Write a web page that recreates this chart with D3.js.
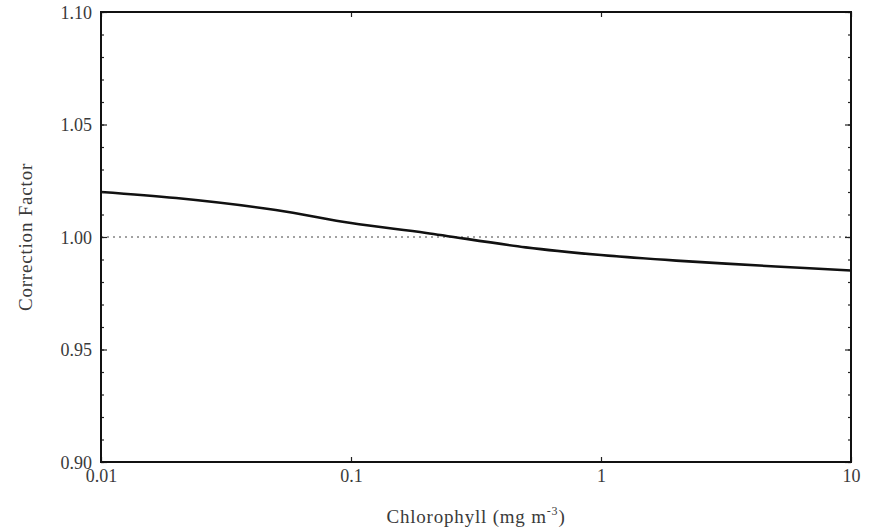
<!DOCTYPE html>
<html><head><meta charset="utf-8">
<script src="https://cdn.jsdelivr.net/npm/d3@7/dist/d3.min.js"></script>
<style>body{margin:0;background:#fff}</style>
</head><body>
<script>
const chlorophyll = [0.01, 0.02, 0.05, 0.1, 0.2, 0.5, 1, 2, 5, 10];
const correction = [1.0200, 1.0173, 1.0120, 1.0062, 1.0018, 0.9954, 0.9920, 0.9895, 0.9869, 0.9851];
const xTicks = [0.01, 0.1, 1, 10];
const xTickLabels = ["0.01", "0.1", "1", "10"];
const yTicks = [0.90, 0.95, 1.00, 1.05, 1.10];
const yTickLabels = ["0.90", "0.95", "1.00", "1.05", "1.10"];
const yMinorTicks = d3.range(0.90, 1.1001, 0.01);
const refLine = 1.0;

const W = 875, H = 531;
const m = {left: 101, right: 24, top: 12, bottom: 69};
const svg = d3.select("body").append("svg").attr("width", W).attr("height", H);
const x = d3.scaleLog().domain([0.01, 10]).range([m.left, W - m.right]);
const y = d3.scaleLinear().domain([0.90, 1.10]).range([H - m.bottom, m.top]);
const font = "'Liberation Serif', 'DejaVu Serif', serif";
const col = "#3a3a3a";

// reference dotted line
svg.append("line").attr("x1", x(0.01)).attr("x2", x(10)).attr("y1", y(refLine)).attr("y2", y(refLine))
  .attr("stroke", "#444").attr("stroke-width", 1).attr("stroke-dasharray", "2,4");

// curve
const line = d3.line().x((d, i) => x(chlorophyll[i])).y(d => y(d)).curve(d3.curveCatmullRom.alpha(0.5));
svg.append("path").datum(correction).attr("d", line).attr("fill", "none")
  .attr("stroke", "#111").attr("stroke-width", 2.6);

// axes with inward ticks
function noDomain(g){ g.select(".domain").remove(); }
const gx = svg.append("g").attr("transform", `translate(0,${y(0.90)})`)
  .call(d3.axisBottom(x).tickValues(xTicks).tickSizeInner(-5).tickSizeOuter(0).tickFormat((d, i) => xTickLabels[i]));
gx.call(noDomain);
gx.selectAll("text").attr("y", 3).attr("dy", "0.95em");
const gxt = svg.append("g").attr("transform", `translate(0,${y(1.10)})`)
  .call(d3.axisTop(x).tickValues(xTicks).tickSizeInner(-5).tickSizeOuter(0).tickFormat(""));
gxt.call(noDomain);

const gyMinL = svg.append("g").attr("transform", `translate(${x(0.01)},0)`)
  .call(d3.axisLeft(y).tickValues(yMinorTicks).tickSizeInner(-3).tickSizeOuter(0).tickFormat(""));
gyMinL.call(noDomain);
const gyMinR = svg.append("g").attr("transform", `translate(${x(10)},0)`)
  .call(d3.axisRight(y).tickValues(yMinorTicks).tickSizeInner(-3).tickSizeOuter(0).tickFormat(""));
gyMinR.call(noDomain);
const gy = svg.append("g").attr("transform", `translate(${x(0.01)},0)`)
  .call(d3.axisLeft(y).tickValues(yTicks).tickSizeInner(-6).tickSizeOuter(0).tickFormat((d, i) => yTickLabels[i]));
gy.call(noDomain);
gy.selectAll("text").attr("x", -9).attr("dy", "0.36em");
const gyR = svg.append("g").attr("transform", `translate(${x(10)},0)`)
  .call(d3.axisRight(y).tickValues(yTicks).tickSizeInner(-6).tickSizeOuter(0).tickFormat(""));
gyR.call(noDomain);

svg.selectAll(".tick line").attr("stroke", "#222").attr("stroke-width", 1.2);
svg.selectAll(".tick text").attr("font-family", font).attr("font-size", 18).attr("fill", col);

// frame
svg.append("rect").attr("x", x(0.01)).attr("y", y(1.10)).attr("width", x(10) - x(0.01)).attr("height", y(0.90) - y(1.10))
  .attr("fill", "none").attr("stroke", "#111").attr("stroke-width", 2);

// axis titles
const xt = svg.append("text").attr("x", (x(0.01) + x(10)) / 2).attr("y", 523).attr("text-anchor", "middle")
  .attr("font-family", font).attr("font-size", 19).attr("letter-spacing", 0.8).attr("fill", col);
xt.append("tspan").text("Chlorophyll (mg m");
xt.append("tspan").attr("font-size", 12).attr("dy", -8).text("-3");
xt.append("tspan").attr("dy", 8).text(")");

svg.append("text").attr("transform", `translate(32,${(y(0.9) + y(1.1)) / 2}) rotate(-90)`).attr("text-anchor", "middle")
  .attr("font-family", font).attr("font-size", 19).attr("letter-spacing", 0.8).attr("fill", col).text("Correction Factor");
</script>
</body></html>
